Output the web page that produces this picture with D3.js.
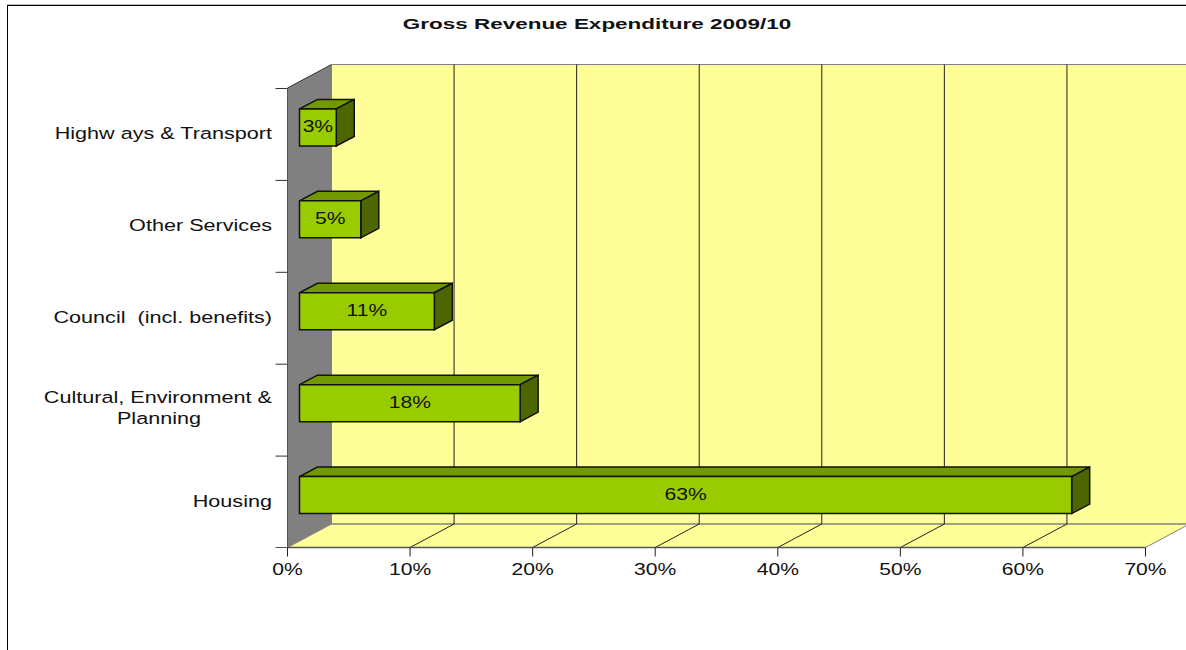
<!DOCTYPE html>
<html>
<head>
<meta charset="utf-8">
<script src="https://cdn.jsdelivr.net/npm/d3@7"></script>
<style>
html,body{margin:0;padding:0;background:#fff;overflow:hidden}
text{font-family:"Liberation Sans",Arial,sans-serif;fill:#111}
</style>
</head>
<body>
<svg id="chart" width="1186" height="650"></svg>
<script>
const chartTitle = "Gross Revenue Expenditure 2009/10";
const categories = ["Highw ays & Transport", "Other Services", "Council  (incl. benefits)", "Cultural, Environment &\nPlanning", "Housing"];
const values = [3, 5, 11, 18, 63];
const axisTicks = [0, 10, 20, 30, 40, 50, 60, 70];

const svg = d3.select("#chart");
const x = d3.scaleLinear().domain([0, 70]).range([287.5, 1145.5]);
const y = d3.scaleBand().domain(categories).range([88, 547.5]);

// Oblique offsets of the 3D box: the chart floor and the bars.
const depth = {dx: 44, dy: -23.5};
const barDepth = {dx: 18, dy: -9.5};
const barStart = {dx: 12, dy: -6.5};
const barHeight = 37;
const fontSize = 16.5;
const stretch = 1.28; // horizontally widened type
const categoryStretch = 1.31;

const poly = (pts, fill, stroke, sw) => svg.append("polygon")
  .attr("points", pts.map(p => p.join(",")).join(" "))
  .attr("fill", fill).attr("stroke", stroke || "none").attr("stroke-width", sw || 1);
const line = (x1, y1, x2, y2, stroke, sw) => svg.append("line")
  .attr("x1", x1).attr("y1", y1).attr("x2", x2).attr("y2", y2)
  .attr("stroke", stroke).attr("stroke-width", sw || 1);
const label = (str, tx, ty, anchor, size, weight, sx) => svg.append("text")
  .attr("transform", `translate(${tx},${ty}) scale(${sx || stretch},1)`)
  .attr("text-anchor", anchor).attr("font-size", size)
  .attr("font-weight", weight || "normal")
  .style("white-space", "pre").text(str);

// Outer frame along the top and left edges.
line(7, 4.5, 1186, 4.5, "#bbb", 1);
line(7, 5.5, 1186, 5.5, "#000", 1);
line(7.5, 5, 7.5, 650, "#000", 1);

const [x0, x1] = x.range();
const [yTop, yBot] = y.range();

// Back wall, left wall and floor.
poly([[x0 + depth.dx, yTop + depth.dy], [x1 + depth.dx, yTop + depth.dy], [x1 + depth.dx, yBot + depth.dy], [x0 + depth.dx, yBot + depth.dy]], "#ffff99");
poly([[x0, yTop], [x0 + depth.dx, yTop + depth.dy], [x0 + depth.dx, yBot + depth.dy], [x0, yBot]], "#808080");
poly([[x0, yBot], [x0 + depth.dx, yBot + depth.dy], [x1 + depth.dx, yBot + depth.dy], [x1, yBot]], "#ffff99");

line(x0, yTop, x0 + depth.dx, yTop + depth.dy, "#333");
line(x0, yTop, x0, yBot, "#555");
line(x0 + depth.dx, yTop + depth.dy, x1 + depth.dx, yTop + depth.dy, "#808080");
line(x0 + depth.dx, yBot + depth.dy, x1 + depth.dx, yBot + depth.dy, "#808080", 1.5);
line(x0 + depth.dx, yTop + depth.dy, x0 + depth.dx, yBot + depth.dy, "#808080");
line(x0, yBot, x0 + depth.dx, yBot + depth.dy, "#808080");
line(x1, yBot, x1 + depth.dx, yBot + depth.dy, "#808080");

// Gridlines climb the floor and then the back wall.
axisTicks.slice(1, -1).forEach(t => {
  const px = x(t);
  line(px, yBot, px + depth.dx, yBot + depth.dy, "#222");
  line(px + depth.dx, yBot + depth.dy, px + depth.dx, yTop + depth.dy, "#222");
});

line(x0, yBot, x1, yBot, "#555", 1.5);

// Axis ticks and their labels.
axisTicks.forEach(t => {
  line(x(t), yBot, x(t), yBot + 9, "#222");
  label(t + "%", x(t), 575, "middle", fontSize);
});
y.domain().forEach(c => line(x0 - 12, y(c) + 0.5, x0, y(c) + 0.5, "#333"));
line(x0 - 12, yBot, x0, yBot, "#555");

// Category labels; a two-line label is centred under its first line.
const labelX = 272;
categories.forEach(c => {
  const parts = c.split("\n");
  const cy = y(c) + y.bandwidth() / 2;
  if (parts.length === 1) {
    label(parts[0], labelX, cy + 5.5, "end", fontSize, "normal", categoryStretch);
  } else {
    label(parts[0], labelX, cy - 7, "end", fontSize, "normal", categoryStretch);
    label(parts[1], 159, cy + 14, "middle", fontSize, "normal", categoryStretch);
  }
});

// Bars with their top and side faces.
const zero = x(0) + barStart.dx;
categories.forEach((c, i) => {
  const bx0 = zero;
  const bx1 = zero + (x(values[i]) - x(0));
  const by0 = y(c) + y.bandwidth() / 2 - barHeight / 2 + barStart.dy;
  const by1 = by0 + barHeight;
  const d = barDepth;
  poly([[bx0, by0], [bx0 + d.dx, by0 + d.dy], [bx1 + d.dx, by0 + d.dy], [bx1, by0]], "#739900", "#111", 1.5);
  poly([[bx1, by0], [bx1 + d.dx, by0 + d.dy], [bx1 + d.dx, by1 + d.dy], [bx1, by1]], "#4d6600", "#111", 1.5);
  poly([[bx0, by0], [bx1, by0], [bx1, by1], [bx0, by1]], "#99cc00", "#111", 1.5);
  label(values[i] + "%", (bx0 + bx1) / 2, (by0 + by1) / 2 + 5, "middle", fontSize);
});

label(chartTitle, 597, 28.5, "middle", 15, "bold", 1.5);
</script>
</body>
</html>
